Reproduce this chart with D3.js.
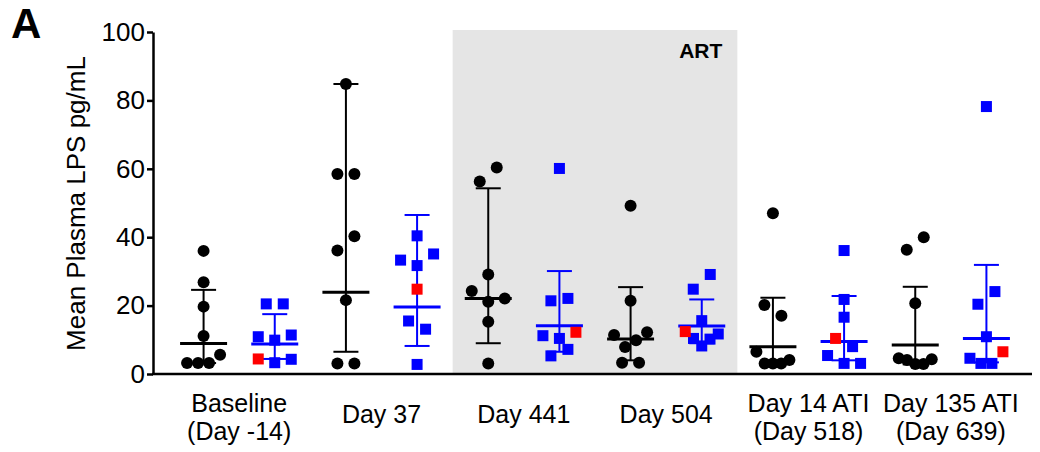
<!DOCTYPE html>
<html>
<head>
<meta charset="utf-8">
<script src="https://cdn.jsdelivr.net/npm/d3@7"></script>
<style>
body { margin: 0; background: #fff; }
svg { display: block; font-family: "Liberation Sans", Arial, sans-serif; }
</style>
</head>
<body>
<div id="chart"></div>
<script>
// x categories (label lines) and the two series
const groupLabels = [["Baseline", "(Day -14)"], ["Day 37"], ["Day 441"], ["Day 504"], ["Day 14 ATI", "(Day 518)"], ["Day 135 ATI", "(Day 639)"]]
const groups = groupLabels.map(d => d.join(" "))
const series = ["black", "blue"]
const yTicks = [0, 20, 40, 60, 80, 100]

// individual animals, pg/mL (listed left to right inside a row of the dot plot)
const blackValues = [
    [36.0, 26.8, 19.7, 11.1, 3.2, 3.2, 3.2, 5.6],
    [84.8, 58.5, 58.5, 36.1, 40.3, 21.6, 3.1, 3.1],
    [56.3, 60.4, 29.1, 24.3, 21.1, 22.1, 15.3, 3.1],
    [49.2, 21.4, 11.4, 7.9, 9.9, 12.2, 3.3, 3.3],
    [47.0, 20.2, 17.0, 6.5, 3.1, 3.1, 3.1, 4.1],
    [36.3, 40.0, 20.7, 4.6, 4.1, 2.9, 2.9, 4.3]
]
const blueValues = [
    [20.5, 20.5, 10.9, 9.9, 11.4, 4.4, 3.3, 4.3],
    [40.4, 33.3, 31.7, 35.1, 24.8, 15.5, 13.1, 2.8],
    [60.1, 21.4, 22.1, 11.2, 10.4, 12.2, 5.3, 7.2],
    [24.8, 29.1, 15.6, 12.4, 10.4, 8.2, 10.2, 11.7],
    [36.1, 21.8, 16.6, 10.4, 8.0, 5.4, 3.1, 3.1],
    [78.2, 20.4, 24.1, 10.9, 4.6, 3.1, 3.1, 6.5]
]
// which blue animal is drawn in red
const redIndex = [5, 4, 5, 3, 3, 7]

// geometric mean and spread bars as drawn
const blackMean = [8.9, 23.9, 22.1, 10.2, 8.0, 8.5]
const blackLow = [3.2, 6.5, 9.0, 4.0, 2.9, 2.8]
const blackHigh = [24.6, 84.8, 54.3, 25.4, 22.3, 25.5]
const blueMean = [8.8, 19.6, 14.1, 14.0, 9.5, 10.4]
const blueLow = [4.4, 8.2, 6.5, 9.0, 4.0, 3.4]
const blueHigh = [17.5, 46.5, 30.1, 21.8, 22.8, 31.9]

const width = 1040
const height = 452
const axisLeftX = 153
const axisRightX = 1032
const colors = { black: "#000000", blue: "#0000ff", red: "#ff0000" }

const svg = d3.select("#chart")
    .append("svg")
    .attr("width", width)
    .attr("height", height)

const x = d3.scaleBand().domain(groups).range([168, 1022])
const xs = d3.scaleBand().domain(series).range([0, x.bandwidth()])
const y = d3.scaleLinear().domain([0, 100]).range([374, 32])
const colX = (g, s) => x(g) + xs(s) + xs.bandwidth() / 2

// ART period shading
const artStart = x(groups[2])
const artEnd = x(groups[3]) + x.bandwidth()
svg.append("rect")
    .attr("x", artStart)
    .attr("y", y(100) - 2)
    .attr("width", artEnd - artStart)
    .attr("height", y(0) - y(100) + 2)
    .attr("fill", "#e5e5e5")

svg.append("text")
    .attr("x", artEnd - 15)
    .attr("y", 58)
    .attr("text-anchor", "end")
    .attr("font-weight", "bold")
    .attr("font-size", 21)
    .text("ART")

// y-axis
const leftAxis = d3.axisLeft(y)
    .tickValues(yTicks)
    .tickSize(6)
    .tickSizeOuter(0)
    .tickPadding(2)

svg.append("g")
    .attr("transform", `translate(${axisLeftX},0)`)
    .call(leftAxis)
    .attr("font-size", 26)
    .attr("font-family", null)
    .call(g => g.selectAll("text").attr("fill", "#000"))
    .call(g => g.selectAll("line, path").attr("stroke", "#000").attr("stroke-width", 2.5))

svg.append("text")
    .attr("transform", `translate(85, ${(y(0) + y(100)) / 2 + 0.5}) rotate(-90)`)
    .attr("text-anchor", "middle")
    .attr("font-size", 26)
    .text("Mean Plasma LPS pg/mL")

// x-axis with two-line labels
const bottomAxis = d3.axisBottom(x)
    .tickSize(0)
    .tickSizeOuter(0)
    .tickFormat(() => "")

const bottomAxisGroup = svg.append("g")
    .attr("transform", `translate(0,${y(0)})`)
    .call(bottomAxis)
    .attr("font-size", 25)
    .attr("font-family", null)

bottomAxisGroup.select(".domain")
    .attr("d", `M${axisLeftX - 1},0H${axisRightX}`)
    .attr("stroke", "#000")
    .attr("stroke-width", 2.5)

bottomAxisGroup.selectAll(".tick text").each(function (d, i) {
    const lines = groupLabels[i]
    const t = d3.select(this).attr("y", null).attr("dy", null).attr("fill", "#000")
    lines.forEach((s, j) => {
        t.append("tspan")
            .attr("x", 0)
            .attr("y", lines.length === 1 ? 49 : 38 + j * 28)
            .text(s)
    })
})

// error bars
const summaries = []
groups.forEach((g, i) => {
    summaries.push({ group: g, series: "black", mean: blackMean[i], lo: blackLow[i], hi: blackHigh[i] })
    summaries.push({ group: g, series: "blue", mean: blueMean[i], lo: blueLow[i], hi: blueHigh[i] })
})

const bars = svg.append("g")
    .selectAll("g")
    .data(summaries)
    .join("g")
    .attr("stroke", d => colors[d.series])

bars.append("line")
    .attr("x1", d => colX(d.group, d.series))
    .attr("x2", d => colX(d.group, d.series))
    .attr("y1", d => y(d.lo))
    .attr("y2", d => y(d.hi))
    .attr("stroke-width", 2)

bars.selectAll(".cap")
    .data(d => [d.lo, d.hi].map(v => ({ v, cx: colX(d.group, d.series) })))
    .join("line")
    .attr("class", "cap")
    .attr("x1", d => d.cx - 12.5)
    .attr("x2", d => d.cx + 12.5)
    .attr("y1", d => y(d.v))
    .attr("y2", d => y(d.v))
    .attr("stroke-width", 2)

bars.append("line")
    .attr("x1", d => colX(d.group, d.series) - 23.5)
    .attr("x2", d => colX(d.group, d.series) + 23.5)
    .attr("y1", d => y(d.mean))
    .attr("y2", d => y(d.mean))
    .attr("stroke-width", 3)

// points: values that fall close together share a row and are spread sideways
const binHeight = 15
const maxStep = 17
const maxSpan = 33

const spreadColumn = (items) => {
    const sorted = items.slice().sort((a, b) => a.value - b.value)
    const bins = []
    sorted.forEach(d => {
        const py = y(d.value)
        const bin = bins[bins.length - 1]
        if (bin && bin.start - py <= binHeight) bin.items.push(d)
        else bins.push({ start: py, items: [d] })
    })
    bins.forEach(bin => {
        const n = bin.items.length
        const step = n > 1 ? Math.min(maxStep, maxSpan / (n - 1)) : 0
        bin.items.sort((a, b) => a.index - b.index)
            .forEach((d, j) => { d.dx = (j - (n - 1) / 2) * step })
    })
}

const nodes = []
groups.forEach((g, i) => {
    const black = blackValues[i].map((v, k) => ({ group: g, series: "black", value: v, index: k, red: false }))
    const blue = blueValues[i].map((v, k) => ({ group: g, series: "blue", value: v, index: k, red: k === redIndex[i] }))
    spreadColumn(black)
    spreadColumn(blue)
    nodes.push(...black, ...blue)
})

nodes.forEach(d => {
    d.x = colX(d.group, d.series) + d.dx
    d.y = y(d.value)
})

const points = svg.append("g")

points.selectAll("circle")
    .data(nodes.filter(d => d.series === "black"))
    .join("circle")
    .attr("cx", d => d.x)
    .attr("cy", d => d.y)
    .attr("r", 6)
    .attr("fill", colors.black)

points.selectAll("rect")
    .data(nodes.filter(d => d.series === "blue").sort((a, b) => a.red - b.red))
    .join("rect")
    .attr("x", d => d.x - 5.5)
    .attr("y", d => d.y - 5.5)
    .attr("width", 11)
    .attr("height", 11)
    .attr("fill", d => d.red ? colors.red : colors.blue)

// panel letter
svg.append("text")
    .attr("x", 11)
    .attr("y", 38)
    .attr("font-weight", "bold")
    .attr("font-size", 42)
    .text("A")
</script>
</body>
</html>
